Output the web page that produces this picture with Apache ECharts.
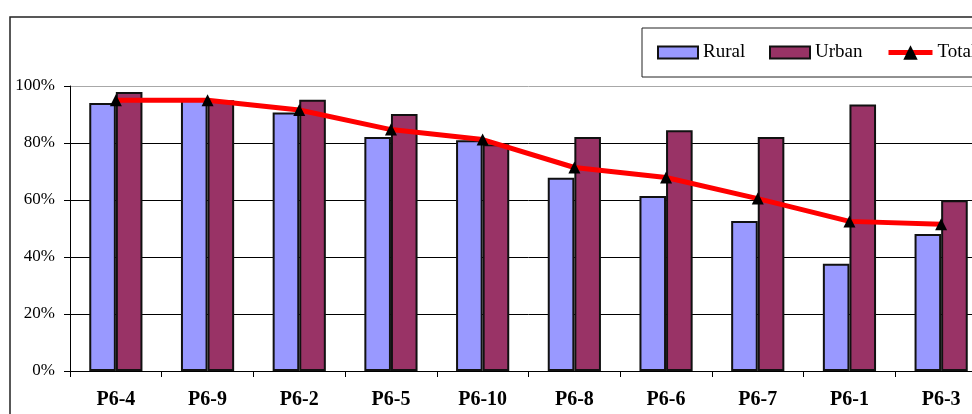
<!DOCTYPE html>
<html>
<head>
<meta charset="utf-8">
<script src="https://cdn.jsdelivr.net/npm/echarts@6/dist/echarts.min.js"></script>
<style>
  html, body { margin: 0; padding: 0; background: #fff; overflow: hidden; width: 972px; height: 414px; }
  #chart { width: 987px; height: 414px; }
</style>
</head>
<body>
<div id="chart"></div>
<script>
const categories = ['P6-4', 'P6-9', 'P6-2', 'P6-5', 'P6-10', 'P6-8', 'P6-6', 'P6-7', 'P6-1', 'P6-3'];
const rural = [94.0, 95.5, 90.7, 82.1, 81.0, 67.8, 61.4, 52.6, 37.6, 48.1];
const urban = [97.9, 95.0, 95.2, 90.2, 79.6, 82.1, 84.5, 82.1, 93.5, 59.9];
const total = [95.0, 95.0, 91.6, 84.7, 81.2, 71.4, 67.9, 60.5, 52.5, 51.5];
const seriesNames = ['Rural', 'Urban', 'Total'];

const FONT = "'Liberation Serif', 'Times New Roman', serif";
const chart = echarts.init(document.getElementById('chart'), null, { renderer: 'canvas' });

const legendBase = {
  orient: 'horizontal',
  top: 43,
  padding: 0,
  itemHeight: 12,
  itemGap: 0,
  textStyle: { fontFamily: FONT, fontSize: 19, color: '#000' },
  selectedMode: false
};

chart.setOption({
  animation: false,
  backgroundColor: '#fff',
  graphic: [
    { type: 'rect', shape: { x: 10, y: 17, width: 1000, height: 500 }, style: { fill: 'none', stroke: '#222', lineWidth: 1.5 }, silent: true, z: 0 },
    { type: 'rect', shape: { x: 642, y: 28, width: 400, height: 49 }, style: { fill: '#fff', stroke: '#222', lineWidth: 1 }, silent: true, z: 0 }
  ],
  legend: [
    Object.assign({}, legendBase, { data: [{ name: seriesNames[0], icon: 'rect' }], left: 657, itemWidth: 40 }),
    Object.assign({}, legendBase, { data: [{ name: seriesNames[1], icon: 'rect' }], left: 769, itemWidth: 40 }),
    Object.assign({}, legendBase, { data: [seriesNames[2]], left: 886, itemWidth: 44, itemHeight: 18,
      lineStyle: { width: 5 } })
  ],
  grid: { left: 70, top: 86, right: 0, bottom: 43, containLabel: false },
  xAxis: {
    type: 'category',
    data: categories,
    boundaryGap: true,
    axisLine: { lineStyle: { color: '#000', width: 1 } },
    axisTick: { show: true, alignWithLabel: false, length: 6, lineStyle: { color: '#000' } },
    axisLabel: { fontFamily: FONT, fontSize: 20, fontWeight: 'bold', color: '#000', margin: 19 }
  },
  yAxis: {
    type: 'value',
    min: 0,
    max: 100,
    interval: 20,
    axisLine: { show: true, lineStyle: { color: '#000', width: 1 } },
    axisTick: { show: true, length: 6, lineStyle: { color: '#000' } },
    axisLabel: { fontFamily: FONT, fontSize: 17, color: '#000', margin: 15, formatter: '{value}%' },
    splitLine: { show: true, lineStyle: { color: ['#000', '#000', '#000', '#000', '#000', '#a8a8a8'], width: 1 } }
  },
  series: [
    {
      name: seriesNames[0], type: 'bar', data: rural,
      barGap: '0%', barCategoryGap: '42%',
      itemStyle: { color: '#9999FF', borderColor: '#111', borderWidth: 2 }
    },
    {
      name: seriesNames[1], type: 'bar', data: urban,
      barGap: '0%', barCategoryGap: '42%',
      itemStyle: { color: '#993366', borderColor: '#111', borderWidth: 2 }
    },
    {
      name: seriesNames[2], type: 'line', data: total,
      z: 5,
      symbol: 'triangle', symbolSize: 12,
      lineStyle: { color: '#FF0000', width: 5 },
      itemStyle: { color: '#000' }
    }
  ]
});
</script>
</body>
</html>
